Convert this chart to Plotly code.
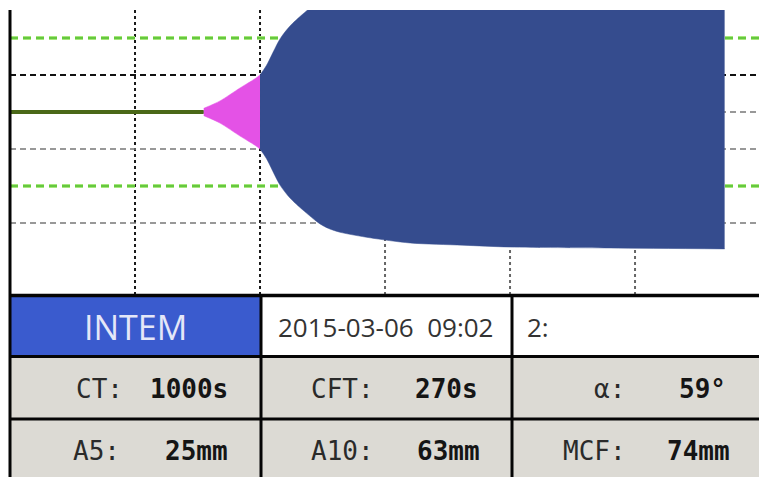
import plotly.graph_objects as go

# ---- trace data (time in seconds, amplitude in mm) ----
ct_s = 1000
cft_s = 270
alpha_deg = 59
a5_mm = 25
a10_mm = 63
mcf_mm = 74

# amplitude of the clot curve after clotting starts
amp_time = [1000, 1078, 1174, 1246, 1270, 1300, 1366, 1414, 1476, 1558, 1600,
            1654, 1798, 1990, 2244, 2470, 2950, 3500]
amp_mm = [2, 6, 13, 18, 20, 25, 39.5, 46.5, 53, 60.5, 63,
          65, 68, 70.8, 72, 73, 73.5, 74]

# baseline before clotting time
base_time = [70, 1000]

# grid
time_grid = [670, 1270, 1870, 2470, 3070]
amp_grid_black = [10, 0, -10, -30]
amp_grid_green = [20, -20]

# result table
test_name = "INTEM"
run_stamp = "2015-03-06  09:02"
channel_label = "2:"
row2_labels = ["CT:", "CFT:", "\u03b1:"]
row2_values = [f"{ct_s}s", f"{cft_s}s", f"{alpha_deg}\u00b0"]
row3_labels = ["A5:", "A10:", "MCF:"]
row3_values = [f"{a5_mm}mm", f"{a10_mm}mm", f"{mcf_mm}mm"]

W, H = 759, 477
X_RANGE = [70, 3665]
Y_RANGE = [-49.46, 27.57]


def px(x):
    return x / W


def py(y):
    return 1 - y / H


# split curve into coagulation (pink) and firmness (blue) phases
split_t = ct_s + cft_s
pink_t = [t for t in amp_time if t <= split_t]
pink_a = [a for t, a in zip(amp_time, amp_mm) if t <= split_t]
blue_t = [t for t in amp_time if t >= split_t]
blue_a = [a for t, a in zip(amp_time, amp_mm) if t >= split_t]

fig = go.Figure()


def add_band(ts, amps, color):
    fig.add_trace(go.Scatter(x=ts, y=[-a / 2 for a in amps], mode="lines",
                             line=dict(color=color, width=0.5, shape="spline", smoothing=0.8),
                             hoverinfo="skip", showlegend=False))
    fig.add_trace(go.Scatter(x=ts, y=[a / 2 for a in amps], mode="lines",
                             line=dict(color=color, width=0.5, shape="spline", smoothing=0.8),
                             fill="tonexty", fillcolor=color,
                             hoverinfo="skip", showlegend=False))


fig.add_trace(go.Scatter(x=base_time, y=[0, 0], mode="lines",
                         line=dict(color="#4a6818", width=4),
                         hoverinfo="skip", showlegend=False))
add_band(pink_t, pink_a, "#e452e6")
add_band(blue_t, blue_a, "#354c8e")

shapes = []
# horizontal grid
for a in amp_grid_black:
    col = "#111111" if a == 10 else "#777777"
    w = 2 if a == 10 else 1.5
    shapes.append(dict(type="line", xref="x", yref="y", x0=X_RANGE[0], x1=X_RANGE[1],
                       y0=a, y1=a, layer="below",
                       line=dict(color=col, width=w, dash="6px,4px")))
for a in amp_grid_green:
    shapes.append(dict(type="line", xref="x", yref="y", x0=X_RANGE[0], x1=X_RANGE[1],
                       y0=a, y1=a, layer="below",
                       line=dict(color="#a6e87c", width=4, dash="8px,5px")))
    shapes.append(dict(type="line", xref="x", yref="y", x0=X_RANGE[0], x1=X_RANGE[1],
                       y0=a, y1=a, layer="below",
                       line=dict(color="#52bd2c", width=1.5, dash="8px,5px")))
# vertical grid
for i, t in enumerate(time_grid):
    col = "#1a1a1a" if i < 2 else "#666666"
    shapes.append(dict(type="line", xref="x", yref="y domain", x0=t, x1=t,
                       y0=0, y1=1, layer="below",
                       line=dict(color=col, width=2, dash="3px,3px")))

# table cells
shapes.append(dict(type="rect", xref="paper", yref="paper", x0=px(11), x1=px(260),
                   y0=py(355), y1=py(296), fillcolor="#3a5bce", line=dict(width=0)))
shapes.append(dict(type="rect", xref="paper", yref="paper", x0=px(11), x1=px(W),
                   y0=py(H), y1=py(357), fillcolor="#dcdad4", line=dict(width=0)))
# table rules
for y, w in [(295.5, 3.5), (356.5, 3), (419, 3)]:
    shapes.append(dict(type="line", xref="paper", yref="paper", x0=px(9), x1=px(W),
                       y0=py(y), y1=py(y), line=dict(color="#050505", width=w)))
for x in [261, 512]:
    shapes.append(dict(type="line", xref="paper", yref="paper", x0=px(x), x1=px(x),
                       y0=py(295), y1=py(H), line=dict(color="#050505", width=3)))
# left axis line
shapes.append(dict(type="line", xref="paper", yref="paper", x0=px(10), x1=px(10),
                   y0=py(10), y1=py(H), line=dict(color="#050505", width=3)))

annotations = []


def note(text, x, y, anchor, size, color, family, bold=False):
    annotations.append(dict(
        text=f"<b>{text}</b>" if bold else text, xref="paper", yref="paper",
        x=px(x), y=py(y), xanchor=anchor, yanchor="middle", showarrow=False,
        font=dict(size=size, color=color, family=family)))


SANS = "Open Sans"
MONO = "DejaVu Sans Mono"
note(test_name, 135, 327, "center", 34, "#e4e7f8", SANS)
note(run_stamp, 276, 327, "left", 26, "#333333", SANS)
note(channel_label, 525, 327, "left", 26, "#333333", SANS)

row2_lx = [74, 309, 592]
row2_rx = [230, 480, 728]
row3_lx = [71, 309, 561]
row3_rx = [230, 482, 732]
for lab, val, lx, rx in zip(row2_labels, row2_values, row2_lx, row2_rx):
    note(lab, lx, 389, "left", 26, "#2a2a2a", MONO)
    note(val, rx, 389, "right", 26, "#151515", MONO, bold=True)
for lab, val, lx, rx in zip(row3_labels, row3_values, row3_lx, row3_rx):
    note(lab, lx, 451, "left", 26, "#2a2a2a", MONO)
    note(val, rx, 451, "right", 26, "#151515", MONO, bold=True)

fig.update_layout(
    width=W, height=H, margin=dict(l=0, r=0, t=0, b=0),
    paper_bgcolor="white", plot_bgcolor="white",
    xaxis=dict(domain=[px(10), 1], range=X_RANGE, visible=False, fixedrange=True),
    yaxis=dict(domain=[py(295), py(10)], range=Y_RANGE, visible=False, fixedrange=True),
    shapes=shapes, annotations=annotations, showlegend=False,
)

fig.write_html("out.html", config={"displayModeBar": False})
